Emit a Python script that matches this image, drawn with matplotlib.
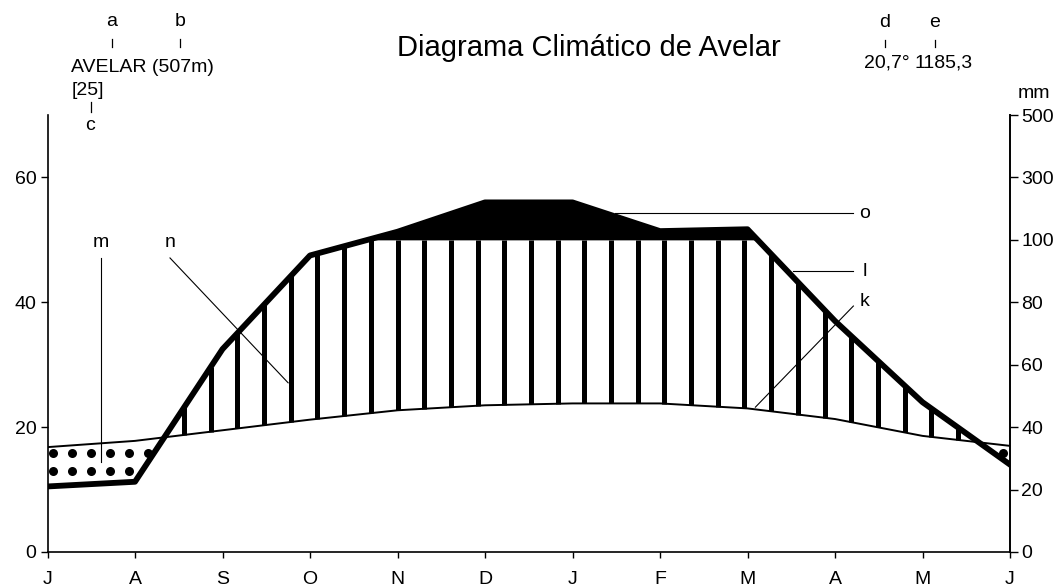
import numpy as np
import matplotlib
matplotlib.use("Agg")
import matplotlib.pyplot as plt
from matplotlib.lines import Line2D

plt.rcParams["font.family"] = ["Liberation Sans", "DejaVu Sans"]

# monthly data, July -> June
months = ["J", "A", "S", "O", "N", "D", "J", "F", "M", "A", "M", "J"]
temp_c = [16.8, 17.8, 19.5, 21.2, 22.7, 23.5, 23.8, 23.8, 23.0, 21.3, 18.6, 17.0]
precip_mm = [21, 22.5, 65, 95, 126, 220, 220, 128, 134, 74, 48, 28]

temp_ticks = [0, 20, 40, 60]
mm_ticks = [0, 20, 40, 60, 80, 100, 300, 500]

title = "Diagrama Climático de Avelar"
station = "AVELAR (507m)"
years = "[25]"
mean_temp = "20,7°"
annual_precip = "1185,3"


def mm_to_t(mm):
    # Walter-Lieth scale: 20 mm = 10 °C up to 100 mm, then 200 mm = 10 °C
    mm = np.asarray(mm, dtype=float)
    return np.where(mm <= 100, mm / 2.0, 50 + (mm - 100) / 20.0)


def t_to_mm(t):
    t = np.asarray(t, dtype=float)
    return np.where(t <= 50, t * 2.0, 100 + (t - 50) * 20.0)


W, H = 1063, 587
fig = plt.figure(figsize=(W / 100, H / 100), dpi=100)
ax = fig.add_axes([47.5 / W, 1 - 552 / H, (1010 - 47.5) / W, (552 - 115) / H])

x = np.arange(len(months))
t = np.array(temp_c)
p = mm_to_t(precip_mm)

# humid period: vertical bars between temperature and precipitation (max 100 mm)
bx = np.arange(1.56, 11, 0.305)
tb = np.interp(bx, x, t)
pb = np.minimum(np.interp(bx, x, p), 50)
keep = pb > tb + 0.3
ax.vlines(bx[keep], tb[keep], pb[keep], color="black", lw=3.6)

# very humid: black above 100 mm
ax.fill_between(x, 50, p, where=p > 50, interpolate=True, color="black", lw=0)

# arid period: dots
dx = np.arange(0.06, 11, 0.2172)
tt = np.interp(dx, x, t)
pp = np.interp(dx, x, p)
for yrow in [12.9, 15.9]:
    k = (yrow > pp + 0.8) & (yrow < tt - 0.8)
    ax.plot(dx[k], np.full(k.sum(), yrow), "o", color="black", ms=6.5, mew=0)

ax.plot(x, t, color="black", lw=1.4, zorder=4)
ax.plot(x, p, color="black", lw=4.2, zorder=5)

ax.set_xlim(0, 11)
ax.set_ylim(0, 70)
ax.spines["top"].set_visible(False)
ax.spines["right"].set_visible(False)
for s in ["left", "bottom"]:
    ax.spines[s].set_linewidth(1.2)
ax.set_yticks(temp_ticks)
ax.set_xticks(x, months)
ax.tick_params(axis="y", direction="out", length=5, width=1, pad=3, labelsize=14)
ax.tick_params(axis="x", direction="out", length=4, width=1, pad=10, labelsize=14)

sec = ax.secondary_yaxis("right", functions=(t_to_mm, mm_to_t))
sec.set_yticks(mm_ticks)
sec.spines["right"].set_linewidth(1.4)
sec.tick_params(direction="out", length=6, width=1, pad=2, labelsize=14)

# labels inside the plot
kw = dict(color="black", lw=0.8, clip_on=False)
ax.text(0.61, 49.5, "m", ha="center", va="center", fontsize=14)
ax.plot([0.61, 0.61], [47.1, 14.4], **kw)
ax.text(1.40, 49.5, "n", ha="center", va="center", fontsize=14)
ax.plot([1.40, 2.75], [47.1, 27.1], **kw)
ax.text(9.34, 54.3, "o", ha="center", va="center", fontsize=14)
ax.plot([6.49, 9.21], [54.3, 54.3], **kw)
ax.text(9.34, 45.0, "l", ha="center", va="center", fontsize=14)
ax.plot([8.52, 9.21], [45.0, 45.0], **kw)
ax.text(9.34, 40.1, "k", ha="center", va="center", fontsize=14)
ax.plot([9.21, 8.09], [39.4, 23.2], **kw)


# header texts, positioned in figure pixels
def ftext(px, py, s, **k):
    fig.text(px / W, 1 - py / H, s, fontsize=14, **k)


def ftick(px, y1, y2):
    fig.add_artist(Line2D([px / W, px / W], [1 - y1 / H, 1 - y2 / H],
                          transform=fig.transFigure, color="black", lw=0.9))


fig.text(589 / W, 1 - 48 / H, title, fontsize=21, ha="center", va="center")
ftext(112, 26, "a", ha="center", va="baseline")
ftick(112, 39, 47)
ftext(180, 26, "b", ha="center", va="baseline")
ftick(180, 39, 47)
ftext(71, 72, station, ha="left", va="baseline")
ftext(72, 95, years, ha="left", va="baseline")
ftick(91, 102, 112)
ftext(90, 130, "c", ha="center", va="baseline")

ftext(885, 27, "d", ha="center", va="baseline")
ftick(885, 40, 47)
ftext(935, 27, "e", ha="center", va="baseline")
ftick(935, 40, 47)
ftext(864, 68, mean_temp, ha="left", va="baseline")
ftext(915, 68, annual_precip, ha="left", va="baseline")
ftext(1018, 98, "mm", ha="left", va="baseline")

fig.savefig("out.png", dpi=100)
